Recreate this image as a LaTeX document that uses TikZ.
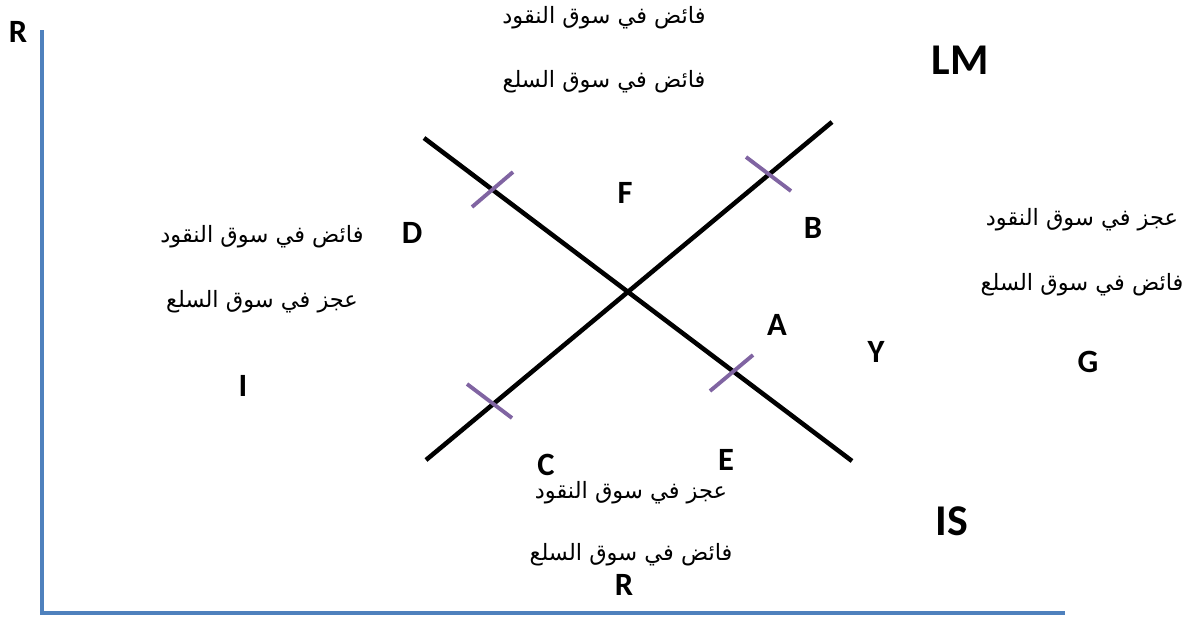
\documentclass[tikz,border=0pt]{standalone}
\usepackage{fontspec}
\usepackage{tikz}
\usetikzlibrary{positioning, calc}
\setmainfont{Carlito}
\newfontfamily\arabicfont[Script=Arabic]{DejaVu Sans}
\TeXXeTstate=1
\definecolor{axisblue}{RGB}{79,129,189}
\definecolor{tickpurple}{RGB}{128,100,162}
\tikzset{
  axisline/.style={draw=axisblue, line width=2.4pt},
  curve/.style={draw=black, line width=2.6pt},
  tickmark/.style={draw=tickpurple, line width=2.2pt},
  pointlabel/.style={font=\fontsize{18.5}{18.5}\selectfont\bfseries, inner sep=0pt},
  curvelabel/.style={font=\fontsize{25}{25}\selectfont\bfseries, inner sep=0pt},
  arlabel/.style={font=\arabicfont\fontsize{12.8}{14}\selectfont, inner sep=0pt}
}
\newcommand{\ar}[1]{\beginR #1\endR}

\begin{document}
\begin{tikzpicture}[x=0.02cm, y=-0.02cm]
      \useasboundingbox (0,0) rectangle (1189,619);

      % === Axes ===
      \coordinate (origin) at (42,613);
      \coordinate (ytop) at (42,30);
      \coordinate (xend) at (1065,613);
      \draw[axisline] (ytop) -- (origin) -- (xend);
      \node[pointlabel] (rtop) at (18,32) {R};

      % === IS and LM curves ===
      \coordinate (isstart) at (424,138);
      \coordinate (isend) at (852,461);
      \coordinate (lmstart) at (426,460);
      \coordinate (lmend) at (832,122);
      \draw[curve] (isstart) -- (isend);
      \draw[curve] (lmstart) -- (lmend);
      \node[curvelabel] (lm) at (960,60) {LM};
      \node[curvelabel] (is) at (952,521) {IS};

      % tick marks on the curves
      \coordinate (tdA) at (472,207); \coordinate (tdB) at (513,172);
      \coordinate (tbA) at (746,157); \coordinate (tbB) at (791,191);
      \coordinate (tcA) at (467,384); \coordinate (tcB) at (512,418);
      \coordinate (teA) at (710,391); \coordinate (teB) at (753,355);
      \draw[tickmark] (tdA) -- (tdB);
      \draw[tickmark] (tbA) -- (tbB);
      \draw[tickmark] (tcA) -- (tcB);
      \draw[tickmark] (teA) -- (teB);

      % === Point labels ===
      \node[pointlabel] (f) at (625,193) {F};
      \node[pointlabel] (b) at (813,228) {B};
      \node[pointlabel] (a) at (777,325) {A};
      \node[pointlabel] (d) at (412,233) {D};
      \node[pointlabel] (c) at (546,465) {C};
      \node[pointlabel] (e) at (726,460) {E};
      \node[pointlabel] (y) at (876,352) {Y};
      \node[pointlabel] (g) at (1088,362) {G};
      \node[pointlabel] (i) at (243,386) {I};
      \node[pointlabel] (rbot) at (624,585) {R};

      % === Market states ===
      \node[arlabel] (topmoney) at (604,18) {\ar{فائض في سوق النقود}};
      \node[arlabel] (topgoods) at (604,82) {\ar{فائض في سوق السلع}};
      \node[arlabel] (leftmoney) at (262,237) {\ar{فائض في سوق النقود}};
      \node[arlabel] (leftgoods) at (262,302) {\ar{عجز في سوق السلع}};
      \node[arlabel] (rightmoney) at (1082,220) {\ar{عجز في سوق النقود}};
      \node[arlabel] (rightgoods) at (1082,285) {\ar{فائض في سوق السلع}};
      \node[arlabel] (botmoney) at (631,493) {\ar{عجز في سوق النقود}};
      \node[arlabel] (botgoods) at (631,555) {\ar{فائض في سوق السلع}};
\end{tikzpicture}
\end{document}
